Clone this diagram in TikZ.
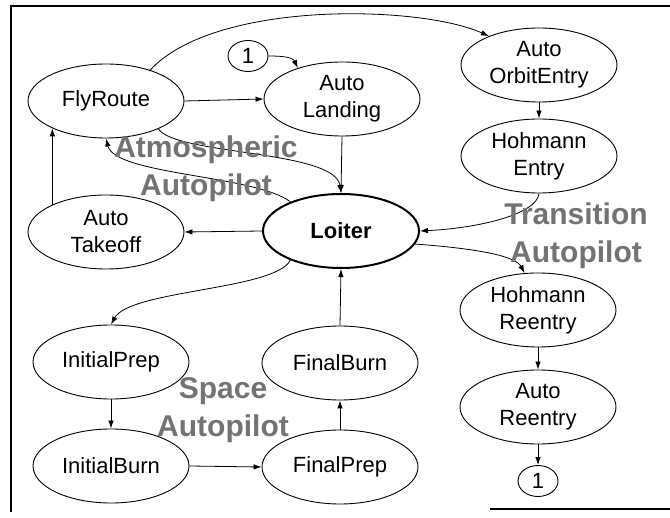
\documentclass[tikz,border=0pt]{standalone}
\usepackage{fontspec}
\setmainfont{Liberation Sans}
\usetikzlibrary{shapes.geometric,arrows.meta}
\begin{document}
\begin{tikzpicture}[x=1pt,y=-1pt,
  st/.style={ellipse,draw,line width=0.9pt,minimum width=156pt,minimum height=74pt,inner sep=0pt,align=center,font=\fontsize{22}{27}\selectfont},
  conn/.style={ellipse,draw,line width=0.9pt,minimum width=40pt,minimum height=31pt,inner sep=0pt,font=\fontsize{22}{27}\selectfont},
  arr/.style={-{Latex[length=8pt,width=5.5pt]},line width=0.8pt},
  grp/.style={align=center,text=black!55,font=\fontsize{30}{38}\selectfont\bfseries},
  frame/.style={line width=1.4pt}]
\useasboundingbox (0,0) rectangle (670,518);
\draw[frame] (11,512) -- (11,6) -- (670,6);
\draw[frame] (490,509) -- (670,509);

\node[st] (fly) at (106,101) {FlyRoute};
\node[conn] (c1) at (248,56) {1};
\node[st] (land) at (342,99) {Auto\\Landing};
\node[st] (orbit) at (539,65) {Auto\\OrbitEntry};
\node[st] (hentry) at (539,156) {Hohmann\\Entry};
\node[st,line width=2pt,font=\fontsize{22}{27}\selectfont\bfseries] (loiter) at (341,231) {Loiter};
\node[st] (takeoff) at (106,232) {Auto\\Takeoff};
\node[st] (hre) at (538,310) {Hohmann\\Reentry};
\node[st] (are) at (538,407) {Auto\\Reentry};
\node[conn] (c2) at (538,481) {1};
\node[st] (iprep) at (111,362) {InitialPrep};
\node[st] (iburn) at (111,466) {InitialBurn};
\node[st] (fburn) at (340,363) {FinalBurn};
\node[st] (fprep) at (340,467) {FinalPrep};

\draw[arr] (fly.35) .. controls (215,0) and (420,5) .. (orbit.150);
\draw[arr] (fly.east) -- (land.west);
\draw[arr] (c1.east) to[out=0,in=115] (land.145);
\draw[arr] (land.south) -- (loiter.north);
\draw[arr] (fly.-28) .. controls (175,155) and (335,150) .. (loiter.north);
\draw[arr] (loiter.150) .. controls (255,175) and (115,175) .. (fly.south);
\draw[arr] (loiter.west) -- (takeoff.east);
\draw[arr] (takeoff.153.7) -- (fly.-153.7);
\draw[arr] (orbit.south) -- (hentry.north);
\draw[arr] (hentry.south) .. controls (537,214) and (480,228) .. (loiter.east);
\draw[arr] (loiter.-10) .. controls (470,248) and (515,255) .. (hre.110);
\draw[arr] (hre.south) -- (are.north);
\draw[arr] (are.south) -- (c2.north);
\draw[arr] (loiter.-150) .. controls (275,290) and (130,290) .. (iprep.north);
\draw[arr] (iprep.south) -- (iburn.north);
\draw[arr] (iburn.east) -- (fprep.west);
\draw[arr] (fprep.north) -- (fburn.south);
\draw[arr] (fburn.north) -- (loiter.south);

\node[grp] (atm) at (206,169) {Atmospheric\\Autopilot};
\node[grp] (tra) at (576,236) {Transition\\Autopilot};
\node[grp] (spa) at (223,410) {Space\\Autopilot};
\end{tikzpicture}
\end{document}
